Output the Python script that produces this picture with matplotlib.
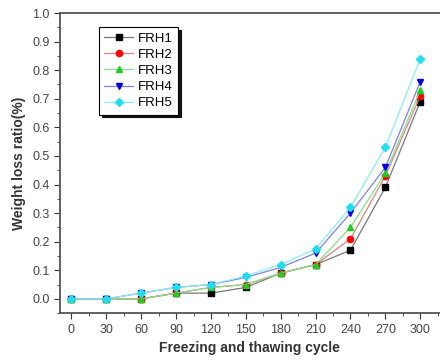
import matplotlib.pyplot as plt
from matplotlib.ticker import MultipleLocator

cycles = [0, 30, 60, 90, 120, 150, 180, 210, 240, 270, 300]
frh1 = [0, 0, 0, 0.02, 0.02, 0.04, 0.09, 0.12, 0.17, 0.39, 0.69]
frh2 = [0, 0, 0, 0.02, 0.04, 0.05, 0.09, 0.12, 0.21, 0.43, 0.71]
frh3 = [0, 0, 0, 0.02, 0.04, 0.05, 0.09, 0.12, 0.25, 0.44, 0.73]
frh4 = [0, 0, 0.02, 0.04, 0.05, 0.075, 0.11, 0.16, 0.30, 0.46, 0.76]
frh5 = [0, 0, 0.02, 0.04, 0.05, 0.08, 0.12, 0.175, 0.32, 0.53, 0.84]
names = ["FRH1", "FRH2", "FRH3", "FRH4", "FRH5"]

plt.rcParams['font.family'] = ['Liberation Sans', 'DejaVu Sans']

fig = plt.figure(figsize=(4.4, 3.62), dpi=100)
ax = fig.add_axes([0.136, 0.135, 0.864, 0.829])

styles = [('black', '#777777', 's'), ('red', '#e08080', 'o'), ('#22cc22', '#88dd88', '^'),
          ('#0000dd', '#8080e0', 'v'), ('#22ddee', '#88eeee', 'D')]
for ys, name, (mc, lc, m) in zip([frh1, frh2, frh3, frh4, frh5], names, styles):
    ax.plot(cycles, ys, color=lc, lw=0.9, marker=m, ms=4.5 if m != 'D' else 4,
            mfc=mc, mec=mc, label=name)

ax.set_xlim(-10, 317)
ax.set_ylim(-0.05, 1.0)
ax.set_xticks(cycles)
ax.xaxis.set_minor_locator(MultipleLocator(15))
ax.yaxis.set_major_locator(MultipleLocator(0.1))
ax.yaxis.set_minor_locator(MultipleLocator(0.05))
ax.set_yticklabels([f"{v:.1f}" for v in ax.get_yticks()])
ax.tick_params(which='both', direction='out', colors='#333333', labelsize=9, labelcolor='#444444')
ax.tick_params(which='major', length=4)
ax.tick_params(which='minor', length=2.5)
for s in ['left', 'bottom', 'top']:
    ax.spines[s].set_color('#555555')
    ax.spines[s].set_linewidth(1.3)
ax.spines['right'].set_visible(False)

ax.set_xlabel('Freezing and thawing cycle', fontsize=10, fontweight='bold', color='#333333')
ax.set_ylabel('Weight loss ratio(%)', fontsize=10, fontweight='bold', color='#333333')

leg = ax.legend(loc='upper left', bbox_to_anchor=(0.085, 0.975), fontsize=9.5,
                shadow={'color': 'black', 'alpha': 0.9},
                fancybox=False, framealpha=1, edgecolor='black', handlelength=2.2,
                borderpad=0.4, labelspacing=0.3, handletextpad=0.4)
leg.get_frame().set_linewidth(0.8)

fig.savefig('out.png', dpi=100)
